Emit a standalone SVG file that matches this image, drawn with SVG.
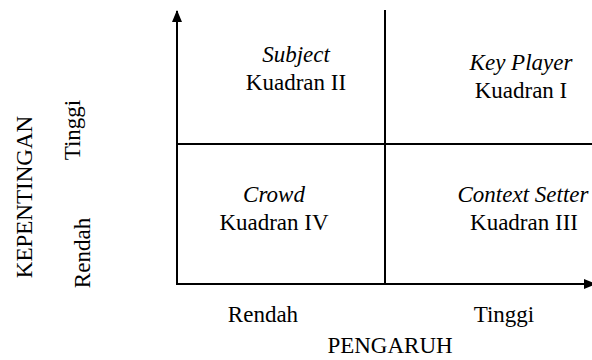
<svg xmlns="http://www.w3.org/2000/svg" width="592" height="360" viewBox="0 0 592 360">
<defs>
<style>
text{font-family:"Liberation Serif","Times New Roman",serif;font-size:23px;fill:#000;text-anchor:middle}
.i{font-style:italic}
.ln{stroke:#000;stroke-width:2;fill:none}
</style>
<marker id="ah" markerWidth="12" markerHeight="12" refX="11" refY="5" orient="auto" markerUnits="userSpaceOnUse" viewBox="0 0 12 10">
<path d="M0,0 L12,5 L0,10 Z" fill="#000"/>
</marker>
</defs>
<rect width="592" height="360" fill="#fff"/>
<g id="connectors">
<line class="ln" x1="177" y1="285" x2="177" y2="11" marker-end="url(#ah)"/>
<line class="ln" x1="176" y1="284" x2="595" y2="284" marker-end="url(#ah)"/>
<line class="ln" x1="177" y1="144" x2="592" y2="144"/>
<line class="ln" x1="385" y1="10" x2="385" y2="284"/>
</g>
<g id="q2"><text class="i" x="296" y="62">Subject</text><text x="296" y="90">Kuadran II</text></g>
<g id="q1"><text class="i" x="521" y="70">Key Player</text><text x="521" y="98">Kuadran I</text></g>
<g id="q4"><text class="i" x="274" y="202">Crowd</text><text x="274" y="230">Kuadran IV</text></g>
<g id="q3"><text class="i" x="523" y="202">Context Setter</text><text x="524" y="230">Kuadran III</text></g>
<g id="yaxis">
<text transform="translate(32,197) rotate(-90)">KEPENTINGAN</text>
<text transform="translate(80,130) rotate(-90)">Tinggi</text>
<text transform="translate(90,253) rotate(-90)">Rendah</text>
</g>
<g id="xaxis">
<text x="263" y="322">Rendah</text>
<text x="504" y="322">Tinggi</text>
<text x="390" y="353">PENGARUH</text>
</g>
</svg>
